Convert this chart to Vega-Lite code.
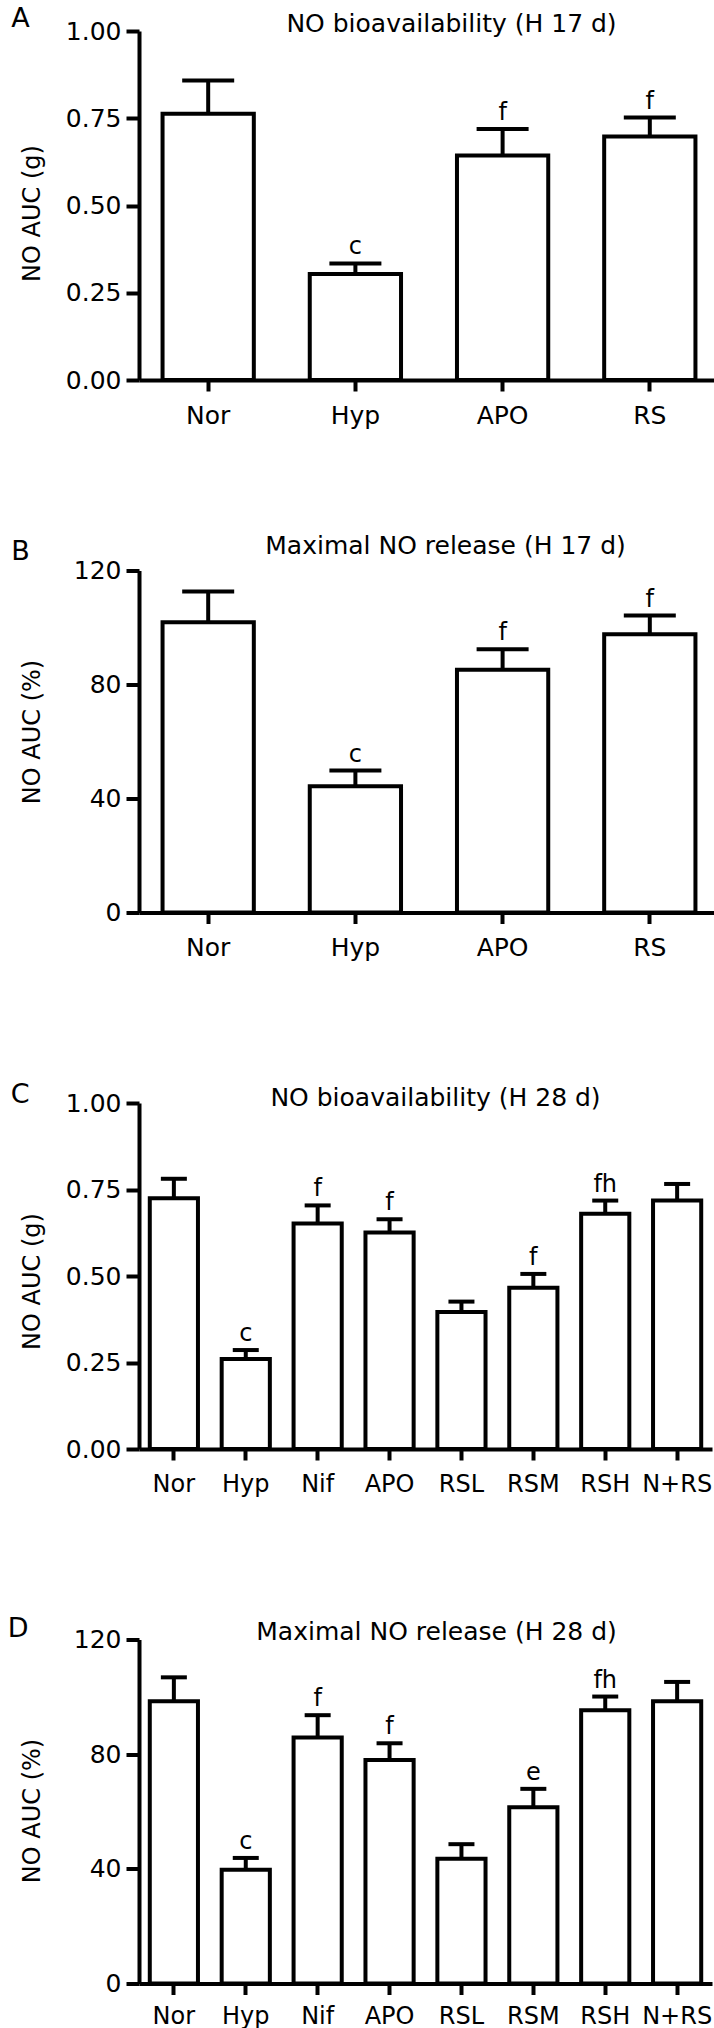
{
  "$schema": "https://vega.github.io/schema/vega-lite/v6.json",
  "padding": {"left": 7, "top": 5, "right": 0, "bottom": 0},
  "spacing": 190.5,
  "bounds": "flush",
  "datasets": {
    "A": [
      {"group": "Nor", "value": 0.763, "err": 0.858, "label": ""},
      {"group": "Hyp", "value": 0.304, "err": 0.334, "label": "c"},
      {"group": "APO", "value": 0.643, "err": 0.719, "label": "f"},
      {"group": "RS", "value": 0.698, "err": 0.752, "label": "f"}
    ],
    "B": [
      {"group": "Nor", "value": 101.8, "err": 112.6, "label": ""},
      {"group": "Hyp", "value": 44.3, "err": 49.8, "label": "c"},
      {"group": "APO", "value": 85.2, "err": 92.4, "label": "f"},
      {"group": "RS", "value": 97.6, "err": 104.2, "label": "f"}
    ],
    "C": [
      {"group": "Nor", "value": 0.725, "err": 0.781, "label": ""},
      {"group": "Hyp", "value": 0.26, "err": 0.286, "label": "c"},
      {"group": "Nif", "value": 0.652, "err": 0.704, "label": "f"},
      {"group": "APO", "value": 0.626, "err": 0.664, "label": "f"},
      {"group": "RSL", "value": 0.396, "err": 0.426, "label": ""},
      {"group": "RSM", "value": 0.466, "err": 0.506, "label": "f"},
      {"group": "RSH", "value": 0.68, "err": 0.718, "label": "fh"},
      {"group": "N+RS", "value": 0.718, "err": 0.766, "label": ""}
    ],
    "D": [
      {"group": "Nor", "value": 98.5, "err": 106.8, "label": ""},
      {"group": "Hyp", "value": 39.7, "err": 43.8, "label": "c"},
      {"group": "Nif", "value": 85.8, "err": 93.6, "label": "f"},
      {"group": "APO", "value": 78.0, "err": 83.8, "label": "f"},
      {"group": "RSL", "value": 43.5, "err": 48.6, "label": ""},
      {"group": "RSM", "value": 61.5, "err": 67.9, "label": "e"},
      {"group": "RSH", "value": 95.3, "err": 100.1, "label": "fh"},
      {"group": "N+RS", "value": 98.5, "err": 105.2, "label": ""}
    ]
  },
  "vconcat": [
    {
      "title": {"text": "A", "orient": "left", "anchor": "end", "frame": "group", "angle": 0, "align": "center", "baseline": "middle", "offset": -19, "dy": -12, "fontSize": 27},
      "width": 580, "height": 349,
      "data": {"name": "A"},
      "encoding": {
        "x": {"field": "group", "type": "nominal", "sort": null,
              "scale": {"paddingInner": 0.38, "paddingOuter": 0.16},
              "axis": {"title": "NO bioavailability (H 17 d)", "titleX": 312, "titleY": -348.3, "titleAngle": 0, "titleAlign": "center", "titleBaseline": "alphabetic", "titleFontSize": 25,
                       "labelAngle": 0, "labelFontSize": 25, "tickSize": 11, "labelPadding": 12}},
        "y": {"field": "value", "type": "quantitative", "scale": {"domain": [0, 1], "nice": false},
              "axis": {"title": "NO AUC (g)", "values": [0, 0.25, 0.5, 0.75, 1], "format": ".2f", "tickSize": 13, "labelPadding": 5,
                       "titleX": -107, "titleY": 182, "titleAngle": 270, "titleBaseline": "middle", "titleAlign": "center"}}
      },
      "layer": [
        {"mark": {"type": "bar", "fill": "white", "stroke": "black", "strokeWidth": 4, "strokeJoin": "miter", "opacity": 1}},
        {"mark": {"type": "rule", "strokeWidth": 4, "color": "black"}, "encoding": {"y2": {"field": "err"}}},
        {"mark": {"type": "tick", "thickness": 4, "color": "black", "opacity": 1},
         "encoding": {"y": {"field": "err", "type": "quantitative", "scale": {"domain": [0, 1], "nice": false},
              "axis": {"title": "NO AUC (g)", "values": [0, 0.25, 0.5, 0.75, 1], "format": ".2f", "tickSize": 13, "labelPadding": 5,
                       "titleX": -107, "titleY": 182, "titleAngle": 270, "titleBaseline": "middle", "titleAlign": "center"}},
                      "size": {"value": 52}}},
        {"mark": {"type": "text", "baseline": "alphabetic", "dy": -9, "fontSize": 24, "color": "black", "font": "DejaVu Sans"},
         "encoding": {"y": {"field": "err", "type": "quantitative", "scale": {"domain": [0, 1], "nice": false},
              "axis": {"title": "NO AUC (g)", "values": [0, 0.25, 0.5, 0.75, 1], "format": ".2f", "tickSize": 13, "labelPadding": 5,
                       "titleX": -107, "titleY": 182, "titleAngle": 270, "titleBaseline": "middle", "titleAlign": "center"}},
                      "text": {"field": "label"}}}
      ]
    },
    {
      "title": {"text": "B", "orient": "left", "anchor": "end", "frame": "group", "angle": 0, "align": "center", "baseline": "middle", "offset": -19, "dy": -19, "fontSize": 27},
      "width": 580, "height": 342,
      "data": {"name": "B"},
      "encoding": {
        "x": {"field": "group", "type": "nominal", "sort": null,
              "scale": {"paddingInner": 0.38, "paddingOuter": 0.16},
              "axis": {"title": "Maximal NO release (H 17 d)", "titleX": 306, "titleY": -358.7, "titleAngle": 0, "titleAlign": "center", "titleBaseline": "alphabetic", "titleFontSize": 25,
                       "labelAngle": 0, "labelFontSize": 25, "tickSize": 11, "labelPadding": 12}},
        "y": {"field": "value", "type": "quantitative", "scale": {"domain": [0, 120], "nice": false},
              "axis": {"title": "NO AUC (%)", "values": [0, 40, 80, 120], "format": "d", "tickSize": 13, "labelPadding": 5,
                       "titleX": -107, "titleY": 161, "titleAngle": 270, "titleBaseline": "middle", "titleAlign": "center"}}
      },
      "layer": [
        {"mark": {"type": "bar", "fill": "white", "stroke": "black", "strokeWidth": 4, "strokeJoin": "miter", "opacity": 1}},
        {"mark": {"type": "rule", "strokeWidth": 4, "color": "black"}, "encoding": {"y2": {"field": "err"}}},
        {"mark": {"type": "tick", "thickness": 4, "color": "black", "opacity": 1},
         "encoding": {"y": {"field": "err", "type": "quantitative", "scale": {"domain": [0, 120], "nice": false},
              "axis": {"title": "NO AUC (%)", "values": [0, 40, 80, 120], "format": "d", "tickSize": 13, "labelPadding": 5,
                       "titleX": -107, "titleY": 161, "titleAngle": 270, "titleBaseline": "middle", "titleAlign": "center"}},
                      "size": {"value": 52}}},
        {"mark": {"type": "text", "baseline": "alphabetic", "dy": -9, "fontSize": 24, "color": "black", "font": "DejaVu Sans"},
         "encoding": {"y": {"field": "err", "type": "quantitative", "scale": {"domain": [0, 120], "nice": false},
              "axis": {"title": "NO AUC (%)", "values": [0, 40, 80, 120], "format": "d", "tickSize": 13, "labelPadding": 5,
                       "titleX": -107, "titleY": 161, "titleAngle": 270, "titleBaseline": "middle", "titleAlign": "center"}},
                      "text": {"field": "label"}}}
      ]
    },
    {
      "title": {"text": "C", "orient": "left", "anchor": "end", "frame": "group", "angle": 0, "align": "center", "baseline": "middle", "offset": -19, "dy": -7.9, "fontSize": 27},
      "width": 573, "height": 346,
      "data": {"name": "C"},
      "encoding": {
        "x": {"field": "group", "type": "nominal", "sort": null,
              "scale": {"paddingInner": 0.33, "paddingOuter": 0.15},
              "axis": {"title": "NO bioavailability (H 28 d)", "titleX": 296, "titleY": -343.4, "titleAngle": 0, "titleAlign": "center", "titleBaseline": "alphabetic", "titleFontSize": 25,
                       "labelAngle": 0, "labelFontSize": 24, "tickSize": 11, "labelPadding": 12}},
        "y": {"field": "value", "type": "quantitative", "scale": {"domain": [0, 1], "nice": false},
              "axis": {"title": "NO AUC (g)", "values": [0, 0.25, 0.5, 0.75, 1], "format": ".2f", "tickSize": 13, "labelPadding": 5,
                       "titleX": -107, "titleY": 178, "titleAngle": 270, "titleBaseline": "middle", "titleAlign": "center"}}
      },
      "layer": [
        {"mark": {"type": "bar", "fill": "white", "stroke": "black", "strokeWidth": 4, "strokeJoin": "miter", "opacity": 1}},
        {"mark": {"type": "rule", "strokeWidth": 4, "color": "black"}, "encoding": {"y2": {"field": "err"}}},
        {"mark": {"type": "tick", "thickness": 4, "color": "black", "opacity": 1},
         "encoding": {"y": {"field": "err", "type": "quantitative", "scale": {"domain": [0, 1], "nice": false},
              "axis": {"title": "NO AUC (g)", "values": [0, 0.25, 0.5, 0.75, 1], "format": ".2f", "tickSize": 13, "labelPadding": 5,
                       "titleX": -107, "titleY": 178, "titleAngle": 270, "titleBaseline": "middle", "titleAlign": "center"}},
                      "size": {"value": 26}}},
        {"mark": {"type": "text", "baseline": "alphabetic", "dy": -9, "fontSize": 24, "color": "black", "font": "DejaVu Sans"},
         "encoding": {"y": {"field": "err", "type": "quantitative", "scale": {"domain": [0, 1], "nice": false},
              "axis": {"title": "NO AUC (g)", "values": [0, 0.25, 0.5, 0.75, 1], "format": ".2f", "tickSize": 13, "labelPadding": 5,
                       "titleX": -107, "titleY": 178, "titleAngle": 270, "titleBaseline": "middle", "titleAlign": "center"}},
                      "text": {"field": "label"}}}
      ]
    },
    {
      "title": {"text": "D", "orient": "left", "anchor": "end", "frame": "group", "angle": 0, "align": "center", "baseline": "middle", "offset": -19, "dy": -10.5, "fontSize": 27},
      "width": 573, "height": 344,
      "data": {"name": "D"},
      "encoding": {
        "x": {"field": "group", "type": "nominal", "sort": null,
              "scale": {"paddingInner": 0.33, "paddingOuter": 0.15},
              "axis": {"title": "Maximal NO release (H 28 d)", "titleX": 297, "titleY": -344, "titleAngle": 0, "titleAlign": "center", "titleBaseline": "alphabetic", "titleFontSize": 25,
                       "labelAngle": 0, "labelFontSize": 24, "tickSize": 11, "labelPadding": 10}},
        "y": {"field": "value", "type": "quantitative", "scale": {"domain": [0, 120], "nice": false},
              "axis": {"title": "NO AUC (%)", "values": [0, 40, 80, 120], "format": "d", "tickSize": 13, "labelPadding": 5,
                       "titleX": -107, "titleY": 171, "titleAngle": 270, "titleBaseline": "middle", "titleAlign": "center"}}
      },
      "layer": [
        {"mark": {"type": "bar", "fill": "white", "stroke": "black", "strokeWidth": 4, "strokeJoin": "miter", "opacity": 1}},
        {"mark": {"type": "rule", "strokeWidth": 4, "color": "black"}, "encoding": {"y2": {"field": "err"}}},
        {"mark": {"type": "tick", "thickness": 4, "color": "black", "opacity": 1},
         "encoding": {"y": {"field": "err", "type": "quantitative", "scale": {"domain": [0, 120], "nice": false},
              "axis": {"title": "NO AUC (%)", "values": [0, 40, 80, 120], "format": "d", "tickSize": 13, "labelPadding": 5,
                       "titleX": -107, "titleY": 171, "titleAngle": 270, "titleBaseline": "middle", "titleAlign": "center"}},
                      "size": {"value": 26}}},
        {"mark": {"type": "text", "baseline": "alphabetic", "dy": -9, "fontSize": 24, "color": "black", "font": "DejaVu Sans"},
         "encoding": {"y": {"field": "err", "type": "quantitative", "scale": {"domain": [0, 120], "nice": false},
              "axis": {"title": "NO AUC (%)", "values": [0, 40, 80, 120], "format": "d", "tickSize": 13, "labelPadding": 5,
                       "titleX": -107, "titleY": 171, "titleAngle": 270, "titleBaseline": "middle", "titleAlign": "center"}},
                      "text": {"field": "label"}}}
      ]
    }
  ],
  "config": {
    "font": "DejaVu Sans",
    "view": {"stroke": null},
    "title": {"font": "DejaVu Sans", "fontWeight": "normal", "color": "black"},
    "axis": {
      "grid": false,
      "domainColor": "black", "domainWidth": 4,
      "tickColor": "black", "tickWidth": 4,
      "labelColor": "black", "labelFont": "DejaVu Sans", "labelFontSize": 25,
      "labelFlush": false, "labelOverlap": false,
      "titleColor": "black", "titleFont": "DejaVu Sans", "titleFontWeight": "normal", "titleFontSize": 24
    },
    "text": {"font": "DejaVu Sans"}
  }
}
